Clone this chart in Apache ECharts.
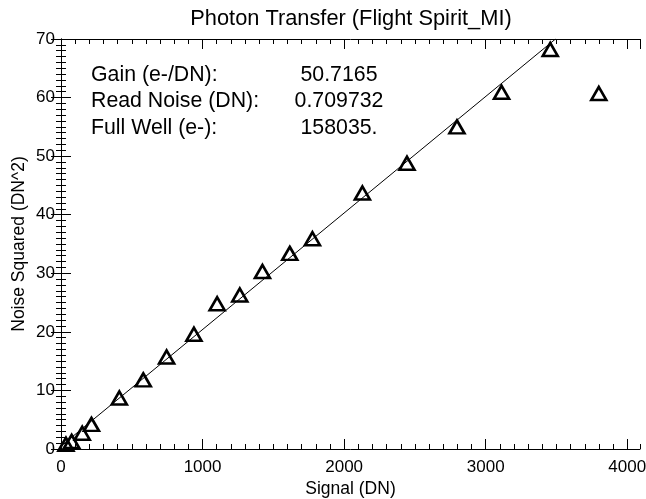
<!DOCTYPE html>
<html>
<head>
<meta charset="utf-8">
<script src="https://cdn.jsdelivr.net/npm/echarts@6/dist/echarts.min.js"></script>
<style>
  html, body { margin: 0; padding: 0; background: #fff; }
  #chart { width: 646px; height: 499px; }
</style>
</head>
<body>
<div id="chart"></div>
<script>
// measured points (signal DN vs noise squared DN^2)
const signal = [35, 75, 150, 215, 412, 581, 746, 939, 1103, 1263, 1423, 1616, 1776, 2129, 2444, 2797, 3112, 3456, 3799];
const noiseSq = [0.8, 1.3, 2.7, 4.2, 8.7, 11.8, 15.7, 19.6, 24.8, 26.3, 30.3, 33.4, 35.9, 43.7, 48.8, 55.0, 60.9, 68.2, 60.7];

// fit line end points
const fitSignal = [0, 3493];
const fitNoiseSq = [0.5, 70];

const statLabels = ['Gain (e-/DN):', 'Read Noise (DN):', 'Full Well (e-):'];
const statValues = ['50.7165', '0.709732', '158035.'];

const font = 'Liberation Sans, Helvetica, Arial, sans-serif';
const chartDom = document.getElementById('chart');
const myChart = echarts.init(chartDom);

const points = signal.map((s, i) => [s, noiseSq[i]]);
const fitLine = fitSignal.map((s, i) => [s, fitNoiseSq[i]]);

function xAxisDef(pos, interval, tickLen, withLabels) {
  return {
    type: 'value',
    position: pos,
    min: 0,
    max: 4090,
    interval: interval,
    name: withLabels ? 'Signal (DN)' : '',
    nameLocation: 'middle',
    nameGap: 31,
    nameMoveOverlap: false,
    nameTextStyle: { color: '#000', fontSize: 17.5, fontFamily: font },
    axisLine: { show: interval === 1000, lineStyle: { color: '#000', width: 1 } },
    axisTick: { show: true, inside: true, length: tickLen, lineStyle: { color: '#000', width: 1 } },
    axisLabel: {
      show: withLabels,
      showMaxLabel: false,
      margin: 10,
      color: '#000',
      fontSize: 17,
      fontFamily: font,
      formatter: (v) => String(v)
    },
    splitLine: { show: false }
  };
}

function yAxisDef(pos, withLabels) {
  return {
    type: 'value',
    position: pos,
    min: 0,
    max: 70,
    interval: 10,
    name: withLabels ? 'Noise Squared (DN^2)' : '',
    nameLocation: 'middle',
    nameGap: 33,
    nameMoveOverlap: false,
    nameTextStyle: { color: '#000', fontSize: 17.5, fontFamily: font },
    axisLine: { show: true, lineStyle: { color: '#000', width: 1 } },
    axisTick: { show: true, inside: true, length: 10, lineStyle: { color: '#000', width: 1 } },
    minorTick: { show: true, splitNumber: 10, length: 5, lineStyle: { color: '#000', width: 1 } },
    axisLabel: {
      show: withLabels,
      margin: 6,
      color: '#000',
      fontSize: 17,
      fontFamily: font
    },
    splitLine: { show: false },
    minorSplitLine: { show: false }
  };
}

const graphics = [];
statLabels.forEach((txt, i) => {
  graphics.push({
    type: 'text',
    x: 91,
    y: 75 + i * 26.5,
    style: { text: txt, fill: '#000', fontSize: 21.3, fontFamily: font, align: 'left', verticalAlign: 'middle' }
  });
  graphics.push({
    type: 'text',
    x: 339,
    y: 75 + i * 26.5,
    style: { text: statValues[i], fill: '#000', fontSize: 21.3, fontFamily: font, align: 'center', verticalAlign: 'middle' }
  });
});

let option = {
  backgroundColor: '#fff',
  animation: false,
  title: {
    text: 'Photon Transfer (Flight Spirit_MI)',
    left: 351,
    top: 8,
    padding: 0,
    textAlign: 'center',
    textStyle: { color: '#000', fontSize: 21.8, fontWeight: 'normal', fontFamily: font }
  },
  grid: { left: 61, right: 6, top: 39, bottom: 50, containLabel: false, outerBoundsMode: 'none' },
  xAxis: [
    xAxisDef('bottom', 1000, 10, true),
    xAxisDef('bottom', 100, 5, false),
    xAxisDef('top', 1000, 10, false),
    xAxisDef('top', 100, 5, false)
  ],
  yAxis: [yAxisDef('left', true), yAxisDef('right', false)],
  graphic: graphics,
  series: [
    {
      type: 'line',
      data: fitLine,
      xAxisIndex: 0,
      yAxisIndex: 0,
      showSymbol: false,
      lineStyle: { color: '#000', width: 1 },
      silent: true
    },
    {
      type: 'scatter',
      data: points,
      xAxisIndex: 0,
      yAxisIndex: 0,
      symbol: 'triangle',
      symbolSize: [15, 13],
      itemStyle: { color: 'rgba(0,0,0,0)', borderColor: '#000', borderWidth: 2.6, opacity: 1 },
      silent: true
    }
  ]
};

option && myChart.setOption(option);
</script>
</body>
</html>
